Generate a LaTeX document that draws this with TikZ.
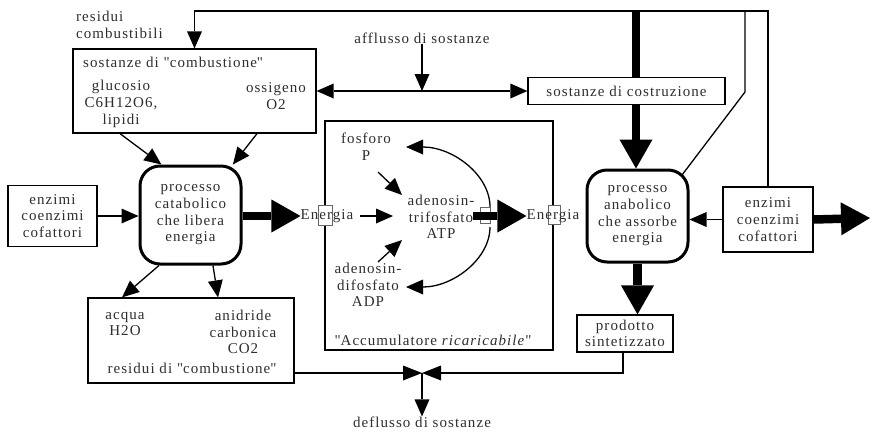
\documentclass[tikz,border=0pt]{standalone}
\usepackage{fontspec}
\setmainfont[LetterSpace=7]{Liberation Serif}
\usetikzlibrary{arrows.meta}
\newcommand{\qt}{\textquotedbl}
\tikzset{
  lbl/.style={font=\fontsize{15}{16.7}\selectfont, text=black!82, align=center, inner sep=0pt},
  box/.style={lbl, draw=black, line width=1.2pt, fill=white},
  proc/.style={lbl, draw=black, line width=3pt, rounded corners=20pt, fill=white},
  plain/.style={line width=1.3pt, draw=black},
  conn/.style={plain, -{Triangle[length=17pt,width=15pt,line width=0pt]}},
  dbl/.style={plain, {Triangle[length=17pt,width=15pt,line width=0pt]}-{Triangle[length=17pt,width=15pt,line width=0pt]}},
  bowtip/.style={plain, -{Triangle[length=19pt,width=15pt,line width=0pt]}},
  bigarrow/.style={line width=8.5pt, -{Triangle[length=29pt,width=33pt,line width=0pt]}},
  gapbox/.style={draw=black!60, line width=0.8pt, fill=white, inner sep=0pt},
}
\begin{document}
\begin{tikzpicture}[x=1pt, y=-1pt]
\useasboundingbox (0,0) rectangle (875,432);

% ---------- boxes ----------
\node[box, minimum width=243pt, minimum height=84pt] (comb) at (194.5,91) {};
\node[box, minimum width=197pt, minimum height=27pt] (costr) at (626.5,91) {sostanze di costruzione};
\node[box, minimum width=89pt, minimum height=61pt] (enzL) at (52.5,216) {enzimi\\coenzimi\\cofattori};
\node[proc, minimum width=101pt, minimum height=98pt] (cat) at (190.5,215) {processo\\catabolico\\che libera\\energia};
\node[box, line width=1.6pt, minimum width=228pt, minimum height=229pt] (acc) at (439,235.5) {};
\node[proc, minimum width=101pt, minimum height=92pt] (anab) at (637.5,216) {processo\\anabolico\\che assorbe\\energia};
\node[box, minimum width=90pt, minimum height=65pt] (enzR) at (768,219.5) {enzimi\\coenzimi\\cofattori};
\node[box, minimum width=96pt, minimum height=37pt] (prod) at (625,333.5) {prodotto\\sintetizzato};
\node[box, minimum width=206pt, minimum height=85pt] (resid) at (191,340.5) {};

% ---------- free labels ----------
\node[lbl, align=left, anchor=west] (resc) at (76,25) {residui\\combustibili};
\node[lbl, anchor=west] (combT) at (83,62) {sostanze di \qt combustione\qt};
\node[lbl] (gluc) at (121,104) {glucosio\\C6H12O6,\\lipidi};
\node[lbl] (oss) at (276,96) {ossigeno\\O2};
\node[lbl] (affl) at (422,38) {afflusso di sostanze};
\node[lbl] (acqua) at (125,324) {acqua\\H2O};
\node[lbl] (anid) at (243,332) {anidride\\carbonica\\CO2};
\node[lbl] (residT) at (192,368) {residui di \qt combustione\qt};
\node[lbl] (defl) at (422,422) {deflusso di sostanze};

% ---------- routing points ----------
\coordinate (top) at (0,11);
\coordinate (thk) at (636,11);
\coordinate (bend) at (745,92);
\coordinate (anabC) at (682,175);
\coordinate (affJ) at (422,91);
\coordinate (bow) at (422,373);
\coordinate (outR) at (870,218);
\coordinate (fosA) at (378,172);
\coordinate (fosB) at (402,195);
\coordinate (adpA) at (378,262);
\coordinate (adpB) at (402,240);
\coordinate (enA) at (360,216);
\coordinate (enB) at (393,216);
\coordinate (arcTa) at (490,207);
\coordinate (arcTb) at (406,147);
\coordinate (arcBa) at (490,227);
\coordinate (arcBb) at (406,287);

% ---------- connectors: top return line ----------
\draw[conn] (enzR.north) -- (enzR.north |- top) -- (comb.north |- top) -- (comb.north);
\draw[line width=8.5pt] (thk) -- (thk |- costr.north);
\draw[bigarrow] (thk |- costr.south) -- (thk |- anab.north);
\draw[plain] (anabC) -- (bend) -- (bend |- top);

% ---------- inflow ----------
\draw[dbl] (comb.east) -- (costr.west);
\draw[conn] (affl.south) -- (affJ);

% ---------- catabolic side ----------
\draw[conn] ([xshift=-74.5pt]comb.south) -- (cat.120);
\draw[conn] ([xshift=62.5pt]comb.south) -- (cat.50);
\draw[conn] (enzL.east) -- (enzL.east -| cat.west);
\draw[conn] (cat.238) -- ([xshift=-69pt]resid.north);
\draw[conn] (cat.294) -- ([xshift=27pt]resid.north);

% ---------- accumulator ----------
\draw[conn] (arcTa) .. controls (490,175) and (453,147) .. (arcTb);
\draw[conn] (arcBa) .. controls (490,259) and (453,287) .. (arcBb);
\node[gapbox, minimum width=14pt, minimum height=20pt] (g1) at (325,215) {};
\node[gapbox, minimum width=10pt, minimum height=16pt] (g2) at (485,215) {};
\node[gapbox, minimum width=12pt, minimum height=19pt] (g3) at (554,215) {};
\node[lbl] (enL) at (327,216) {Energia};
\node[lbl] (enR) at (553,216) {Energia};
\node[lbl] (fosf) at (366,147) {fosforo\\P};
\node[lbl] (atp) at (441,217) {adenosin-\\trifosfato\\ATP};
\node[lbl] (adp) at (368,285) {adenosin-\\difosfato\\ADP};
\node[lbl] (accT) at (433,340) {\qt Accumulatore \textit{ricaricabile}\qt};
\draw[conn] (fosA) -- (fosB);
\draw[conn] (adpA) -- (adpB);
\draw[conn] (enA) -- (enB);
\draw[bigarrow] (cat.east |- enL.west) -- (enL.west);
\draw[bigarrow] ([xshift=-2pt]atp.east |- enR.west) -- (enR.west);

% ---------- anabolic side ----------
\draw[conn] (enzR.west) -- (enzR.west -| anab.east);
\draw[bigarrow] (enzR.east) -- (outR);
\draw[bigarrow] (anab.south) -- (anab.south |- prod.north);

% ---------- outflow ----------
\draw[bowtip] ([xshift=-2pt]prod.south) |- (bow);
\draw[bowtip] (resid.east |- bow) -- (bow);
\draw[conn] (bow) -- (defl.north);
\end{tikzpicture}
\end{document}
